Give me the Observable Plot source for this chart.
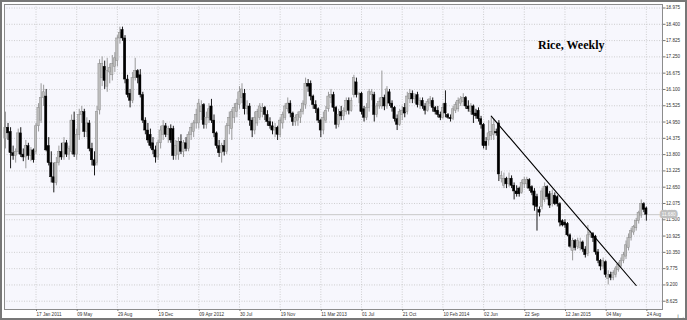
<!DOCTYPE html>
<html><head><meta charset="utf-8">
<script src="https://cdn.jsdelivr.net/npm/d3@7"></script>
<script src="https://cdn.jsdelivr.net/npm/@observablehq/plot@0.6"></script>
<style>
html,body{margin:0;padding:0;background:#fff;}
#wrap{position:relative;width:687px;height:320px;overflow:hidden;}
#border{position:absolute;left:0;top:0;width:687px;height:320px;box-sizing:border-box;border:2px solid #777;pointer-events:none;}
</style></head><body><div id="wrap"><div id="border"></div></div>
<script>
const opens=[
14.35,14.75,14.6,13.85,13.75,13.9,14.55,13.8,13.7,14.1,
13.75,13.95,13.9,14.8,15.0,15.8,15.85,14.1,13.5,13.0,
12.8,13.5,13.9,13.7,14.2,13.8,13.9,15.0,13.8,14.5,
15.2,15.3,14.6,14.9,14.0,13.6,13.5,15.36,16.5,16.9,
16.2,16.7,16.6,16.9,17.1,17.9,18.2,17.9,16.45,15.95,
15.7,16.5,16.75,16.6,15.9,15.0,14.65,14.5,14.2,13.95,
13.7,14.2,14.5,14.8,14.5,14.7,14.7,13.75,13.8,14.25,
13.9,14.2,14.0,14.5,14.6,14.9,14.9,15.3,15.55,14.85,
15.1,15.5,15.0,14.55,14.1,13.85,14.1,13.9,14.8,14.7,
15.1,15.3,15.55,15.8,15.95,15.4,15.5,15.0,14.65,14.9,
15.1,15.3,15.45,15.2,14.95,14.8,14.65,14.75,14.5,14.9,
15.1,15.4,15.6,15.25,14.95,15.0,15.1,15.3,15.55,16.3,
16.3,15.85,15.55,15.4,15.0,14.65,15.0,15.4,15.8,15.9,
15.45,14.85,15.3,15.15,15.3,15.7,15.35,15.9,16.35,15.9,
15.95,15.4,15.1,15.45,15.9,15.9,15.2,15.5,15.5,15.8,
15.5,16.0,15.6,15.45,15.05,14.85,15.2,15.45,15.3,15.75,
15.95,15.75,15.9,15.55,15.7,15.5,15.35,15.6,15.7,15.45,
15.35,15.2,15.1,15.6,15.2,15.1,15.05,15.35,15.4,15.6,
15.65,15.8,15.5,15.3,15.5,15.25,15.35,15.05,14.85,14.25,
14.3,14.45,14.5,14.6,14.9,12.95,12.7,12.95,12.75,12.95,
12.7,12.5,12.6,12.45,12.75,12.75,12.9,12.65,12.5,12.3,
11.85,11.95,12.2,12.65,12.4,12.05,12.35,12.3,12.05,11.45,
11.4,11.35,10.95,10.4,10.75,10.55,10.5,10.7,10.45,10.3,
10.95,11.0,10.9,10.35,10.05,9.85,10.0,9.4,9.55,9.45,
9.55,9.72,9.85,10.05,10.2,10.5,10.85,11.05,11.2,11.45,
11.65,12.05,11.9];
const highs=[
15.3,14.9,14.75,14.1,14.0,14.7,14.75,14.0,14.3,14.2,
14.05,14.0,14.9,15.6,16.3,16.25,16.1,14.4,13.9,13.5,
13.7,14.1,14.2,14.4,14.3,14.1,15.2,15.3,14.7,15.4,
15.5,15.4,15.1,15.0,14.2,13.9,15.5,17.15,17.25,17.1,
17.2,17.0,17.3,17.4,18.0,18.3,18.3,18.0,16.6,16.1,
16.7,17.2,16.8,16.8,16.0,15.1,14.9,14.7,14.4,14.1,
14.3,14.8,15.0,14.9,14.8,14.85,14.8,14.3,14.4,14.5,
14.3,14.4,14.6,14.9,15.0,15.4,15.75,15.7,15.6,15.3,
15.6,15.75,15.2,14.6,14.3,14.2,14.3,14.9,15.3,15.4,
15.6,15.75,16.2,16.3,16.1,15.7,15.6,15.1,15.3,15.4,
15.6,15.6,15.5,15.35,15.1,14.95,14.9,14.8,15.1,15.3,
15.6,15.8,15.7,15.3,15.2,15.3,15.4,15.7,16.5,16.45,
16.4,15.9,15.7,15.45,15.05,15.3,15.5,16.0,16.1,16.0,
15.5,15.4,15.5,15.45,15.8,15.8,15.8,16.6,16.5,16.0,
16.0,15.5,15.6,16.1,16.1,16.0,15.6,15.8,16.75,15.9,
16.2,16.1,15.7,15.5,15.2,15.4,15.5,15.6,16.0,16.1,
16.05,15.95,16.0,15.8,15.8,15.6,15.75,15.85,15.8,15.5,
15.5,15.3,15.6,16.05,15.25,15.2,15.5,15.65,15.8,15.85,
15.95,15.85,15.7,15.6,15.55,15.4,15.45,15.15,14.9,14.4,
15.0,15.1,15.05,14.7,15.0,13.2,13.15,13.0,13.15,13.05,
12.8,12.7,12.65,12.9,13.0,13.0,12.95,12.7,12.6,12.4,
11.95,12.6,12.8,12.7,12.5,12.55,12.45,12.35,12.1,11.5,
11.5,11.4,11.0,10.85,10.8,10.85,10.85,10.75,10.55,11.3,
11.1,11.05,10.95,10.45,10.1,10.15,10.05,9.7,9.65,9.7,
9.85,10.0,10.15,10.35,10.75,11.0,11.2,11.3,11.55,11.8,
12.2,12.1,11.95];
const lows=[
14.0,14.3,13.3,13.6,13.5,13.8,13.7,13.55,13.3,13.6,
13.55,13.5,13.8,14.6,14.9,15.5,13.9,13.4,12.8,12.45,
12.7,13.4,13.6,13.6,13.7,13.6,13.8,13.7,13.6,14.3,
14.9,14.4,14.4,13.9,13.4,13.05,13.4,15.2,16.2,16.1,
16.0,16.3,16.4,16.7,16.9,17.7,17.8,16.3,15.8,15.45,
15.6,16.4,16.3,15.8,14.9,14.5,14.2,14.0,13.8,13.5,
13.6,14.0,14.3,14.4,14.2,14.2,13.6,13.6,13.6,13.8,
13.7,13.9,13.9,14.3,14.4,14.7,14.7,15.0,14.7,14.7,
14.9,14.9,14.4,14.0,13.7,13.5,13.75,13.8,14.5,14.3,
14.9,15.1,15.4,15.6,15.2,15.2,14.8,14.4,14.5,14.8,
15.0,15.1,15.0,14.8,14.7,14.5,14.4,14.3,14.4,14.7,
15.0,15.3,15.1,14.8,14.8,14.8,14.9,15.2,15.4,16.0,
15.7,15.4,15.25,14.9,14.4,14.5,14.9,15.3,15.6,15.3,
14.7,14.75,15.0,15.0,15.2,15.2,15.3,15.8,15.8,15.6,
15.2,14.95,15.0,15.3,15.7,14.95,15.1,15.4,15.4,15.35,
15.4,15.5,15.3,14.95,14.65,14.8,15.0,15.1,15.2,15.6,
15.6,15.6,15.45,15.4,15.4,15.2,15.3,15.5,15.3,15.2,
15.1,15.0,15.05,15.1,15.05,14.95,15.0,15.25,15.3,15.5,
15.5,15.4,15.3,15.2,14.9,15.05,14.95,14.7,14.0,13.95,
14.1,14.3,14.3,14.45,12.85,12.8,12.6,12.6,12.65,12.6,
12.2,12.3,12.3,12.4,12.6,12.6,12.5,12.35,11.8,11.1,
11.6,11.85,12.1,12.2,11.9,11.95,12.0,11.95,11.25,11.25,
11.2,10.9,10.5,10.05,10.4,10.45,10.4,10.35,10.15,10.2,
10.85,10.7,10.25,9.95,9.7,9.75,9.45,9.2,9.35,9.35,
9.45,9.65,9.8,9.95,10.1,10.4,10.75,10.95,11.1,11.35,
11.55,11.75,11.45];
const closes=[
14.75,14.55,13.85,13.75,13.9,14.55,13.8,13.7,14.1,13.75,
13.95,13.6,14.8,15.45,15.8,16.0,13.95,13.5,13.0,12.8,
13.5,13.9,13.7,14.2,13.8,14.0,15.0,13.8,14.5,15.2,
15.3,14.6,14.9,14.0,13.6,13.4,15.3,17.0,17.0,16.4,
16.75,16.85,17.0,17.2,17.9,18.1,17.9,16.45,15.9,15.7,
16.5,16.75,16.5,15.9,15.0,14.65,14.3,14.1,13.95,13.7,
14.2,14.65,14.8,14.5,14.7,14.3,13.75,14.1,14.25,13.9,
14.2,14.0,14.5,14.75,14.9,15.2,15.6,15.5,14.85,15.1,
15.4,15.0,14.55,14.1,13.85,14.1,13.9,14.8,15.1,15.3,
15.45,15.6,16.0,16.1,15.4,15.5,15.0,14.65,15.1,15.3,
15.5,15.45,15.2,14.95,14.8,14.65,14.75,14.5,15.0,15.2,
15.5,15.6,15.25,14.95,15.1,15.2,15.3,15.6,16.3,16.2,
15.85,15.55,15.4,15.0,14.65,15.1,15.35,15.85,15.9,15.45,
14.85,15.2,15.15,15.35,15.7,15.35,15.7,16.5,15.9,15.95,
15.3,15.1,15.45,16.0,16.0,15.2,15.5,15.65,15.8,15.5,
16.1,15.6,15.45,15.05,14.85,15.3,15.35,15.25,15.85,15.95,
15.75,15.85,15.55,15.7,15.5,15.35,15.65,15.75,15.45,15.3,
15.2,15.1,15.45,15.25,15.1,15.05,15.4,15.55,15.7,15.75,
15.8,15.5,15.4,15.5,15.2,15.15,15.05,14.85,14.1,14.1,
14.55,14.6,14.85,14.55,13.1,13.05,12.95,12.75,12.95,12.7,
12.5,12.4,12.4,12.8,12.9,12.9,12.6,12.45,12.0,11.95,
11.75,12.5,12.65,12.3,12.0,12.4,12.05,12.05,11.4,11.3,
11.3,10.95,10.55,10.75,10.5,10.75,10.7,10.45,10.25,10.95,
11.05,10.85,10.35,10.05,9.85,10.05,9.55,9.55,9.45,9.62,
9.78,9.92,10.05,10.25,10.6,10.85,11.1,11.25,11.45,11.75,
12.05,11.85,11.68];

const tickIndex=[12,28,44,60,76,92,108,124,140,156,172,188,204,220,236,252];
const tickLabels=["17 Jan 2011","09 May","29 Aug","19 Dec","09 Apr 2012","30 Jul","19 Nov","11 Mar 2013","01 Jul","21 Oct","10 Feb 2014","02 Jun","22 Sep","12 Jan 2015","04 May","24 Aug"];
const yTicks=[18.975,18.400,17.825,17.250,16.675,16.100,15.525,14.950,14.375,13.800,13.225,12.650,12.075,11.500,10.925,10.350,9.775,9.200,8.625];
const trendIndex=[191,248];
const trendValue=[15.16,9.18];
const currentPrice=11.68;
const title="Rice, Weekly";

const data=opens.map((o,i)=>({i,open:o,high:highs[i],low:lows[i],close:closes[i],up:closes[i]>=o}));
const trend=trendIndex.map((t,k)=>({i:t,v:trendValue[k]}));

const chart=Plot.plot({
  width:687,height:320,
  marginLeft:4,marginRight:25,marginTop:4,marginBottom:11,
  style:{background:"transparent",fontFamily:"'Liberation Sans',Arial,sans-serif",fontSize:"4.6px",overflow:"visible"},
  x:{domain:[-0.39,258.35],axis:null},
  y:{domain:[8.333,19.099],axis:null},
  marks:[
    Plot.frame({fill:"#f7f7fd"}),
    Plot.ruleY(yTicks,{stroke:"#c4c4c4",strokeDasharray:"1,1.5",strokeWidth:0.8}),
    Plot.ruleX(tickIndex,{stroke:"#c4c4c4",strokeDasharray:"1,1.5",strokeWidth:0.8}),
    Plot.ruleY([currentPrice],{stroke:"#c8c8c8",strokeWidth:1}),
    Plot.ruleX(data,{x:"i",y1:"low",y2:"high",stroke:d=>d.up?"#8f8f8f":"#000",strokeWidth:0.9}),
    Plot.rect(data,{x1:d=>d.i-0.46,x2:d=>d.i+0.46,y1:"open",y2:"close",fill:d=>d.up?"#bdbdbd":"#000",stroke:d=>d.up?"#868686":"#000",strokeWidth:0.45}),
    Plot.line(trend,{x:"i",y:"v",stroke:"#000",strokeWidth:1.1}),
    Plot.frame({stroke:"#8c8c8c"}),
    Plot.axisY(yTicks,{anchor:"right",tickSize:2.5,tickPadding:1,stroke:"#777",fill:"#333",textAnchor:"start",tickFormat:d=>d.toFixed(3)}),
    Plot.axisX(tickIndex,{anchor:"bottom",tickSize:2,tickPadding:1,stroke:"#777",fill:"#333",textAnchor:"start",dx:0.5,tickFormat:d=>tickLabels[tickIndex.indexOf(d)]}),
    Plot.text([currentPrice],{y:d=>d,frameAnchor:"right",dx:13,text:d=>d.toFixed(3),fill:"#fff",stroke:"#c0c0c0",strokeWidth:4.5,paintOrder:"stroke",fontSize:4.6}),
    Plot.text([title],{frameAnchor:"top-right",dx:-58,dy:41,textAnchor:"end",lineAnchor:"middle",fontFamily:"'Liberation Serif','Times New Roman',serif",fontWeight:"bold",fontSize:12,fill:"#000"})
  ]
});
document.getElementById("wrap").prepend(chart);
</script></body></html>
